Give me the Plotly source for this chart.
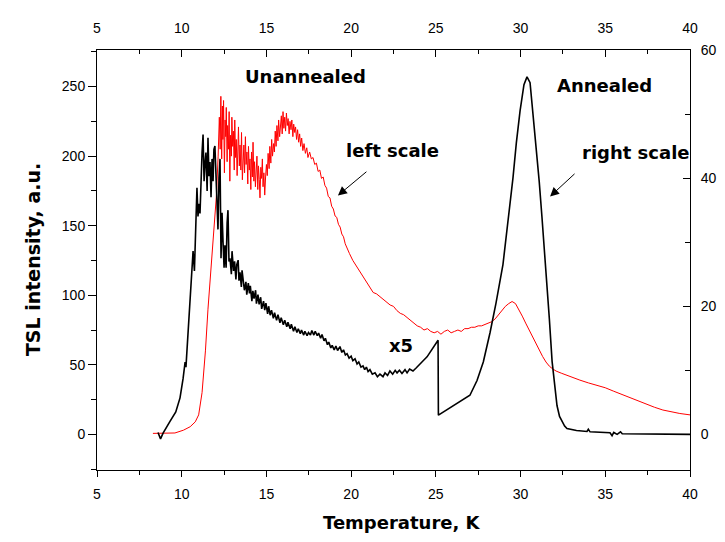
import plotly.graph_objects as go

# ---------------- data ----------------
# Unannealed sample, left scale (a.u.)
red_T = [8.3, 9.0, 9.6, 10.1, 10.5, 10.8, 11.0, 11.2, 11.4, 11.55, 11.75, 11.9, 12.05, 12.15,
         12.22, 12.27, 12.31, 12.36, 12.4, 12.43, 12.47, 12.52, 12.56, 12.6, 12.63, 12.68, 12.71,
         12.76, 12.8, 12.84, 12.88, 12.93, 12.96, 13.01, 13.05, 13.1, 13.13, 13.18, 13.22, 13.27,
         13.31, 13.35, 13.4, 13.44, 13.49, 13.53, 13.58, 13.62, 13.67, 13.71, 13.76, 13.8, 13.85,
         13.9, 13.94, 13.99, 14.03, 14.08, 14.12, 14.17, 14.21, 14.26, 14.3, 14.35, 14.4, 14.44,
         14.49, 14.53, 14.58, 14.62, 14.67, 14.71, 14.76, 14.8, 14.85, 14.9, 14.95, 15.0,
         15.05, 15.1, 15.16, 15.2, 15.26, 15.31, 15.36, 15.42, 15.47, 15.52, 15.57, 15.62, 15.68,
         15.72, 15.78, 15.83, 15.88, 15.93, 15.98, 16.03, 16.08, 16.13, 16.18, 16.23, 16.28, 16.34,
         16.39, 16.45, 16.5, 16.56, 16.61, 16.67, 16.72, 16.78, 16.84, 16.9, 16.96, 17.02, 17.08,
         17.15, 17.22, 17.3, 17.38, 17.45, 17.55, 17.65, 17.75, 17.85, 17.95, 18.05, 18.15, 18.25,
         18.35, 18.45, 18.55, 18.65, 18.75, 18.85, 18.95, 19.05, 19.15, 19.25, 19.35, 19.45, 19.55,
         19.65, 19.75, 19.9, 20.1, 20.3, 20.5, 20.7, 20.9, 21.1, 21.3, 21.5, 21.7, 21.9, 22.1, 22.3,
         22.5, 22.7, 22.9, 23.1, 23.3, 23.5, 23.7, 23.9, 24.1, 24.3, 24.5, 24.7, 24.9, 25.1, 25.3,
         25.5, 25.7, 25.9, 26.1, 26.3, 26.5, 26.7, 26.9, 27.1, 27.3, 27.5, 27.7, 27.9, 28.1, 28.3,
         28.5, 28.7, 28.9, 29.1, 29.3, 29.5, 29.7, 29.9, 30.1, 30.3, 30.5, 30.7, 30.9, 31.1, 31.3,
         31.5, 31.7, 31.9, 32.1, 32.4, 32.7, 33.0, 33.5, 34.0, 34.5, 35.0, 35.5, 36.0, 36.5, 36.9,
         37.4, 37.9, 38.4, 38.9, 39.4, 40.0]
red_I = [0.7, 0.7, 1.0, 3.0, 5.5, 9, 14, 30, 60, 90, 125, 150, 172, 200,
         228, 205, 243, 198, 236, 212, 240, 188, 226, 214, 235, 196, 222,
         205, 232, 182, 215, 200, 228, 207, 218, 190, 226, 199, 212, 186,
         205, 221, 193, 208, 190, 217, 183, 200, 208, 188, 214, 194, 203,
         180, 207, 190, 198, 176, 203, 185, 210, 182, 196, 178, 190, 200,
         176, 193, 183, 170, 192, 184, 198, 178, 188, 172, 185, 194,
         186, 202, 191, 207, 195, 212, 200, 209, 203, 218, 207, 222, 211,
         226, 214, 221, 229, 216, 232, 220, 228, 218, 231, 222, 227, 216,
         225, 219, 226, 214, 223, 217, 221, 212, 219, 210, 216, 207, 213,
         204, 209, 202, 206, 199, 203, 198, 199, 194, 195, 189, 190, 184,
         185, 179, 177, 171, 170, 164, 162, 157, 156, 151, 149, 144, 142,
         137, 134, 130, 125, 121, 118, 113, 109, 105, 102, 101, 99, 97, 95, 93,
         92, 89, 87, 86, 84, 82, 80, 78, 77, 75, 76, 74, 73, 74, 72,
         74, 75, 73, 74, 75, 74, 76, 76, 77, 77, 78, 78, 79, 80, 81,
         83, 86, 89, 92, 94, 95.5, 94, 90, 85, 80, 75, 70, 65, 60, 56,
         52, 49, 47, 45.5, 44, 42.5, 41, 39, 37, 35.5, 33.5, 31, 28.5, 26, 24,
         21.5, 19.5, 17.5, 16, 15, 14]

# Annealed sample, right scale (x5 below 25 K)
blk_T = [8.6, 8.75, 8.9, 9.05, 9.3, 9.65, 9.9, 10.08, 10.2, 10.25, 10.37, 10.49, 10.6, 10.67, 10.75,
         10.85, 10.9, 10.96, 11.02, 11.08, 11.14, 11.2, 11.26, 11.32, 11.37, 11.43, 11.5, 11.55,
         11.61, 11.67, 11.73, 11.79, 11.85, 11.9, 11.96, 12.02, 12.08, 12.14, 12.2, 12.26, 12.32,
         12.38, 12.44, 12.5, 12.55, 12.62, 12.68, 12.73, 12.79, 12.85, 12.93, 12.97, 13.06, 13.12,
         13.2, 13.25, 13.33, 13.38, 13.44, 13.52, 13.56, 13.63, 13.7, 13.79, 13.84, 13.93, 14.0,
         14.05, 14.14, 14.2, 14.27, 14.36, 14.41, 14.5, 14.57, 14.66, 14.72, 14.83, 14.9, 14.97,
         15.07, 15.13, 15.22, 15.3, 15.41, 15.48, 15.6, 15.68, 15.8, 15.87, 16.0, 16.08, 16.2, 16.27,
         16.4, 16.47, 16.6, 16.68, 16.8, 16.88, 17.0, 17.07, 17.2, 17.27, 17.4, 17.48, 17.6, 17.68,
         17.8, 17.88, 18.0, 18.08, 18.2, 18.28, 18.4, 18.48, 18.6, 18.68, 18.8, 18.88, 19.0, 19.1,
         19.2, 19.34, 19.45, 19.55, 19.66, 19.76, 19.88, 20.0, 20.1, 20.23, 20.35, 20.45, 20.58,
         20.7, 20.8, 20.9, 21.0, 21.11, 21.25, 21.41, 21.55, 21.7, 21.88, 22.0, 22.15, 22.29, 22.45,
         22.6, 22.71, 22.85, 23.0, 23.18, 23.3, 23.45, 23.65, 23.85, 24.06, 24.25, 24.48, 24.65,
         24.83, 25.0, 25.13, 25.15, 25.5, 25.83, 26.2, 26.6, 27.01, 27.43, 27.8, 28.2, 28.55,
         28.96, 29.25, 29.55, 29.75, 29.97, 30.2, 30.38, 30.56, 30.73, 30.85, 30.97, 31.1, 31.26,
         31.4, 31.56, 31.7, 31.86, 32.0, 32.15, 32.3, 32.45, 32.6, 32.74, 33.3, 33.92, 34.0, 34.1,
         34.69, 35.28, 35.4, 35.5, 35.7, 35.9, 36.0, 37.05, 40.0]
blk_I = [0.3, -0.7, 0.2, 0.8, 2.0, 3.5, 5.7, 8.7, 11.3, 10.5, 15.5, 20, 25, 28.6, 25.5,
         34, 38.5, 34, 36, 34.5, 41, 44, 46.8, 39.5, 42.1, 44, 38, 46.3,
         40.3, 42.5, 37, 43, 39.5, 44.5, 45, 41, 37, 32, 40, 43, 27.5,
         34.6, 30, 26, 29.5, 26, 33, 35, 27, 27.5, 25, 28.6, 25.5, 27,
         24.2, 26.5, 27.2, 24, 25.3, 23, 25.6, 24, 22.5, 23.8, 21.8, 23.6, 22,
         23.2, 20.8, 22.4, 21.2, 22.5, 20.4, 21.8, 20.3, 21.4, 19.6, 20.8, 19.4, 20.5,
         18.8, 20, 18.6, 19.4, 18.1, 19, 17.8, 18.7, 17.4, 18.2, 17.1, 17.8, 16.8, 17.5,
         16.5, 17.2, 16.1, 16.8, 15.9, 16.5, 15.7, 16.3, 15.5, 16.1, 15.4, 15.9, 15.5, 16.2,
         15.5, 16.1, 15.4, 15.8, 15, 15.6, 14.6, 15, 14, 14.4, 13.5, 13.9, 13.2, 13.8,
         13.1, 13.7, 12.8, 13.2, 12.4, 12.6, 11.9, 12.2, 11.5, 11.8, 11, 11.3, 10.5,
         10.7, 10.1, 10.5, 9.8, 10.1, 9.4, 9.6, 9.0, 9.4, 9.0, 9.6, 9.2, 9.9, 9.4,
         10.0, 9.6, 10, 9.5, 10.1, 9.6, 10.2, 9.9, 10.4, 10.9, 11.5, 12.1, 12.8,
         13.5, 14.1, 14.7, 3.0, 3.6, 4.2, 4.8, 5.4, 6.1, 8.4, 11.3, 15.9, 20.5,
         26.5, 33, 40, 45.5, 50.5, 54.6, 55.8, 54.9, 50, 47, 44, 39.5, 34,
         29, 24, 18, 11.4, 7.5, 4.5, 2.8, 2.0, 1.3, 0.9, 0.6, 0.45, 0.8, 0.4,
         0.3, 0.25, -0.2, 0.3, 0.0, 0.4, 0.1, 0.1, 0.0]

x_ticks = [5, 10, 15, 20, 25, 30, 35, 40]
left_ticks = [0, 50, 100, 150, 200, 250]
right_ticks = [0, 20, 40, 60]

# ---------------- figure ----------------
TICKFONT = dict(family="Liberation Sans, Arial, sans-serif", size=14, color="black")
BOLD = dict(family="DejaVu Sans", size=18, color="black", weight="bold")

fig = go.Figure()
fig.add_trace(go.Scatter(x=red_T, y=red_I, mode="lines", line=dict(color="#ff0000", width=1),
                         xaxis="x", yaxis="y", showlegend=False, hoverinfo="skip"))
fig.add_trace(go.Scatter(x=blk_T, y=blk_I, mode="lines", line=dict(color="black", width=1.6),
                         xaxis="x", yaxis="y2", showlegend=False, hoverinfo="skip"))
fig.add_trace(go.Scatter(x=[5], y=[0], mode="markers", marker=dict(opacity=0),
                         xaxis="x2", yaxis="y", showlegend=False, hoverinfo="skip"))

axis_common = dict(showgrid=False, zeroline=False, showline=True, linecolor="black", linewidth=1,
                   tickcolor="black", tickwidth=1, tickfont=TICKFONT)

fig.update_layout(
    width=725, height=542,
    margin=dict(l=89, r=43, t=26, b=80),
    paper_bgcolor="white", plot_bgcolor="white",
    xaxis=dict(range=[5, 40], tickvals=x_ticks, ticks="outside", ticklen=6, ticklabelstandoff=5,
               minor=dict(dtick=2.5, ticklen=4, ticks="outside", tickcolor="black"),
               anchor="y", **axis_common),
    xaxis2=dict(range=[5, 40], tickvals=x_ticks, ticks="inside", ticklen=7, side="top",
                overlaying="x", anchor="y", ticklabelstandoff=10,
                minor=dict(dtick=2.5, ticklen=4, ticks="inside", tickcolor="black"),
                **axis_common),
    yaxis=dict(range=[-25.62, 276.3], tickvals=left_ticks, ticks="outside", ticklen=8,
               minor=dict(dtick=25, ticklen=5, ticks="outside", tickcolor="black"),
               **axis_common),
    yaxis2=dict(range=[-5.56, 60], tickvals=right_ticks, ticks="inside", ticklen=7, side="right",
                overlaying="y", anchor="x", ticklabelstandoff=7,
                minor=dict(dtick=10, ticklen=5, ticks="inside", tickcolor="black"),
                **axis_common),
)

ann = []
ann.append(dict(text="Temperature, K", xref="paper", yref="paper", x=0.514, y=-0.124,
                showarrow=False, font=BOLD, xanchor="center", yanchor="middle"))
ann.append(dict(text="TSL intensity, a.u.", xref="paper", yref="paper", x=-0.108, y=0.502,
                showarrow=False, font=dict(BOLD, size=19), textangle=-90,
                xanchor="center", yanchor="middle"))
for txt, tx, ty in [("Unannealed", 17.28, 257.0), ("Annealed", 34.98, 250.8),
                    ("left scale", 22.47, 204.2), ("right scale", 36.81, 202.8),
                    ("x5", 22.94, 64)]:
    ann.append(dict(text=txt, x=tx, y=ty, xref="x", yref="y", showarrow=False, font=BOLD,
                    xanchor="center", yanchor="middle"))
for hx, hy, axp, ayp in [(19.22, 171.7, 30, -25), (31.74, 171.0, 26, -24)]:
    ann.append(dict(text="", x=hx, y=hy, xref="x", yref="y", showarrow=True, ax=axp, ay=ayp,
                    arrowhead=2, arrowsize=1.8, arrowwidth=1, arrowcolor="black", standoff=0))
fig.update_layout(annotations=ann)

fig.write_html("out.html")
